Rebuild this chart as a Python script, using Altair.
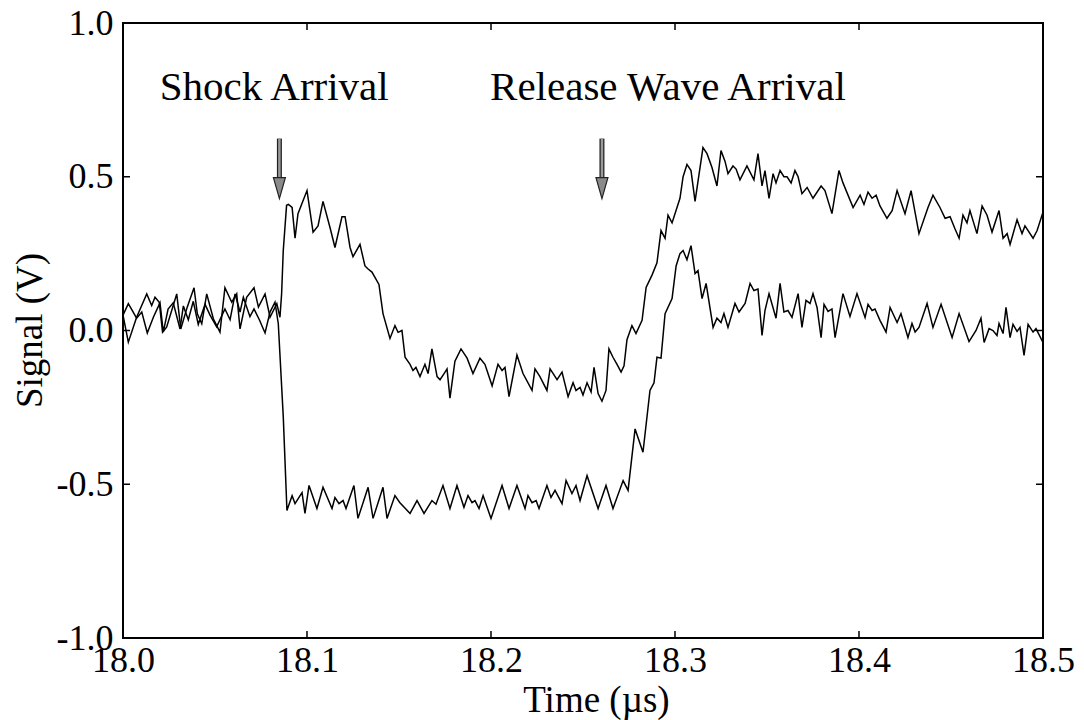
import altair as alt
import pandas as pd

# ---- trace 1 (rises at shock arrival) ----
trace1_t = [18.0000, 18.0029, 18.0074, 18.0129, 18.0156, 18.0174, 18.0197, 18.0215, 18.0237, 18.0292,
            18.0314, 18.0349, 18.0386, 18.0404, 18.0428, 18.0455, 18.0491, 18.0527, 18.0554, 18.0591,
            18.0618, 18.0636, 18.0672, 18.0712, 18.0736, 18.0772, 18.0799, 18.0836, 18.0853, 18.0862,
            18.0871, 18.0889, 18.0899,
            18.0919, 18.0935, 18.0951, 18.1000, 18.1033, 18.1060, 18.1087, 18.1125, 18.1152, 18.1190,
            18.1207, 18.1234, 18.1250, 18.1288, 18.1315, 18.1332, 18.1353, 18.1391, 18.1413, 18.1451,
            18.1478, 18.1495, 18.1516, 18.1533, 18.1560, 18.1576, 18.1592, 18.1614, 18.1641, 18.1658,
            18.1679, 18.1707, 18.1723, 18.1745, 18.1761, 18.1777, 18.1804, 18.1837, 18.1870, 18.1902,
            18.1940, 18.1967, 18.2006, 18.2038, 18.2060, 18.2076, 18.2098, 18.2141, 18.2174, 18.2223,
            18.2239, 18.2266, 18.2304, 18.2321, 18.2359, 18.2386, 18.2419, 18.2446, 18.2462, 18.2484,
            18.2500, 18.2522, 18.2544, 18.2560, 18.2582, 18.2603, 18.2625, 18.2641, 18.2663, 18.2685,
            18.2707, 18.2723, 18.2739, 18.2766, 18.2788, 18.2821, 18.2843, 18.2875, 18.2902, 18.2924,
            18.2946, 18.2962, 18.2984, 18.3027, 18.3044, 18.3065, 18.3087, 18.3109, 18.3152, 18.3174,
            18.3201, 18.3228, 18.3250, 18.3272, 18.3288, 18.3315, 18.3332, 18.3353, 18.3391, 18.3429,
            18.3451, 18.3473, 18.3489, 18.3511, 18.3533, 18.3549, 18.3571, 18.3592, 18.3609, 18.3631,
            18.3652, 18.3669, 18.3690, 18.3718, 18.3750, 18.3794, 18.3815, 18.3853, 18.3891, 18.3913,
            18.3968, 18.4006, 18.4027, 18.4049, 18.4071, 18.4093, 18.4114, 18.4152, 18.4180, 18.4207,
            18.4250, 18.4283, 18.4326, 18.4375, 18.4402, 18.4440, 18.4468, 18.4495, 18.4522, 18.4544,
            18.4565, 18.4587, 18.4603, 18.4641, 18.4669, 18.4696, 18.4723, 18.4761, 18.4783, 18.4805,
            18.4821, 18.4859, 18.4886, 18.4902, 18.4946, 18.4968, 18.5000]
trace1_v = [0.05, -0.038, 0.043, 0.119, 0.081, 0.108, 0.092, -0.005, 0.011, 0.119,
            0.005, 0.076, 0.139, 0.054, 0.022, 0.119, 0.038, -0.005, 0.139, 0.092,
            0.119, 0.005, 0.108, 0.139, 0.076, 0.119, 0.043, 0.087, 0.043, 0.119,
            0.26, 0.407, 0.41,
            0.40, 0.30, 0.38, 0.455, 0.32, 0.34, 0.42, 0.335, 0.27, 0.37,
            0.37, 0.27, 0.24, 0.28, 0.21, 0.20, 0.19, 0.15, 0.055, -0.026,
            0.016, -0.006, 0.0, -0.087, -0.11, -0.13, -0.12, -0.15, -0.11, -0.14,
            -0.06, -0.15, -0.16, -0.14, -0.125, -0.22, -0.10, -0.06, -0.09, -0.14,
            -0.09, -0.11, -0.18, -0.11, -0.13, -0.12, -0.215, -0.08, -0.14, -0.195,
            -0.125, -0.15, -0.195, -0.125, -0.16, -0.135, -0.215, -0.17, -0.195, -0.185,
            -0.21, -0.17, -0.20, -0.12, -0.205, -0.23, -0.195, -0.06, -0.087, -0.11,
            -0.135, -0.115, -0.03, 0.016, -0.01, 0.033, 0.14, 0.18, 0.22, 0.325,
            0.30, 0.375, 0.35, 0.43, 0.50, 0.54, 0.52, 0.42, 0.595, 0.575,
            0.53, 0.47, 0.585, 0.55, 0.51, 0.535, 0.525, 0.49, 0.535, 0.49,
            0.575, 0.47, 0.52, 0.43, 0.51, 0.48, 0.52, 0.50, 0.50, 0.48,
            0.52, 0.50, 0.445, 0.465, 0.43, 0.47, 0.455, 0.38, 0.52, 0.48,
            0.40, 0.44, 0.41, 0.45, 0.43, 0.44, 0.405, 0.365, 0.39, 0.455,
            0.38, 0.455, 0.315, 0.40, 0.44, 0.40, 0.365, 0.37, 0.33, 0.30,
            0.375, 0.35, 0.39, 0.315, 0.405, 0.375, 0.32, 0.39, 0.30, 0.315,
            0.28, 0.36, 0.315, 0.34, 0.30, 0.325, 0.385]

# ---- trace 2 (drops at shock arrival) ----
trace2_t = [18.0000, 18.0029, 18.0074, 18.0102, 18.0132, 18.0165, 18.0201, 18.0219, 18.0245, 18.0273,
            18.0310, 18.0328, 18.0355, 18.0382, 18.0409, 18.0446, 18.0473, 18.0509, 18.0554, 18.0582,
            18.0609, 18.0636, 18.0654, 18.0690, 18.0712, 18.0741, 18.0772, 18.0799, 18.0826, 18.0844,
            18.0871,
            18.0891, 18.0919, 18.0935, 18.0973, 18.0989, 18.1011, 18.1054, 18.1087, 18.1136, 18.1152,
            18.1174, 18.1196, 18.1212, 18.1255, 18.1277, 18.1332, 18.1359, 18.1413, 18.1435, 18.1478,
            18.1505, 18.1560, 18.1598, 18.1636, 18.1679, 18.1701, 18.1739, 18.1777, 18.1815, 18.1853,
            18.1875, 18.1897, 18.1913, 18.1935, 18.1957, 18.2000, 18.2060, 18.2098, 18.2141, 18.2185,
            18.2201, 18.2223, 18.2245, 18.2261, 18.2304, 18.2326, 18.2348, 18.2386, 18.2408, 18.2440,
            18.2462, 18.2484, 18.2522, 18.2582, 18.2625, 18.2663, 18.2718, 18.2745, 18.2783, 18.2826,
            18.2864, 18.2886, 18.2902, 18.2924, 18.2946, 18.2984, 18.3006, 18.3027, 18.3044, 18.3065,
            18.3087, 18.3109, 18.3125, 18.3147, 18.3169, 18.3207, 18.3228, 18.3250, 18.3266, 18.3288,
            18.3326, 18.3348, 18.3381, 18.3408, 18.3429, 18.3451, 18.3473, 18.3489, 18.3511, 18.3549,
            18.3571, 18.3592, 18.3614, 18.3636, 18.3669, 18.3690, 18.3712, 18.3734, 18.3750, 18.3772,
            18.3794, 18.3810, 18.3832, 18.3853, 18.3870, 18.3913, 18.3951, 18.3989, 18.4033, 18.4049,
            18.4071, 18.4087, 18.4114, 18.4147, 18.4169, 18.4207, 18.4228, 18.4266, 18.4288, 18.4305,
            18.4326, 18.4370, 18.4402, 18.4446, 18.4506, 18.4544, 18.4598, 18.4636, 18.4663, 18.4680,
            18.4707, 18.4728, 18.4750, 18.4761, 18.4783, 18.4799, 18.4821, 18.4837, 18.4859, 18.4875,
            18.4897, 18.4919, 18.4946, 18.4962, 18.5000]
trace2_v = [0.05, 0.087, 0.04, 0.06, -0.008, 0.043, 0.09, -0.005, 0.07, 0.09,
            0.005, 0.08, 0.035, 0.095, 0.02, 0.085, 0.05, 0.012, 0.07, 0.035,
            0.119, 0.06, 0.108, 0.045, 0.07, 0.035, -0.008, 0.06, 0.092, 0.022,
            -0.28,
            -0.585, -0.537, -0.563, -0.527, -0.595, -0.504, -0.579, -0.51, -0.579, -0.543,
            -0.563, -0.553, -0.579, -0.504, -0.611, -0.51, -0.611, -0.51, -0.611, -0.537,
            -0.56, -0.595, -0.553, -0.595, -0.553, -0.565, -0.504, -0.579, -0.504, -0.575,
            -0.537, -0.56, -0.553, -0.579, -0.537, -0.611, -0.504, -0.579, -0.504, -0.579,
            -0.537, -0.56, -0.553, -0.579, -0.504, -0.543, -0.52, -0.563, -0.488, -0.53,
            -0.504, -0.553, -0.472, -0.579, -0.504, -0.579, -0.488, -0.52, -0.32, -0.396,
            -0.195, -0.17, -0.087, -0.09, 0.055, 0.104, 0.21, 0.25, 0.26, 0.23,
            0.276, 0.185, 0.195, 0.104, 0.153, 0.01, 0.04, 0.026, 0.055, 0.01,
            0.088, 0.06, 0.088, 0.153, 0.13, 0.135, -0.016, 0.065, 0.12, 0.04,
            0.153, 0.06, 0.065, 0.043, 0.12, 0.01, 0.098, 0.088, 0.12, 0.075,
            -0.023, 0.085, 0.062, 0.07, -0.023, 0.12, 0.046, 0.12, 0.042, 0.085,
            0.065, 0.07, 0.033, -0.005, 0.075, 0.026, 0.055, -0.023, 0.023, -0.005,
            0.01, 0.088, 0.01, 0.085, -0.023, 0.055, -0.036, 0.0, 0.04, -0.039,
            0.006, 0.0, -0.016, 0.023, -0.01, 0.075, -0.023, 0.02, -0.003, 0.01,
            -0.081, 0.02, -0.005, 0.006, -0.039]

assert len(trace1_t) == len(trace1_v), (len(trace1_t), len(trace1_v))
assert len(trace2_t) == len(trace2_v), (len(trace2_t), len(trace2_v))

x_labels = [18.0, 18.1, 18.2, 18.3, 18.4, 18.5]
y_labels = [-1.0, -0.5, 0.0, 0.5, 1.0]
x_ticks = [18.1, 18.2, 18.3, 18.4]
y_ticks = [-0.5, 0.0, 0.5]

ann_text = ["Shock Arrival", "Release Wave Arrival"]
ann_t = [18.020, 18.1995]
ann_v = [0.787, 0.787]

arrow_t = [18.085, 18.2603]
arrow_top = [0.624, 0.624]
arrow_neck = [0.498, 0.498]
arrow_head = [0.463, 0.463]

FONT = "Liberation Serif"
W, H = 920, 615

df = pd.DataFrame({
    "t": trace1_t + trace2_t,
    "v": trace1_v + trace2_v,
    "trace": ["1"] * len(trace1_t) + ["2"] * len(trace2_t),
})
ticks_x_df = pd.DataFrame({"t": x_ticks})
ticks_y_df = pd.DataFrame({"v": y_ticks})
ann_df = pd.DataFrame({"label": ann_text, "t": ann_t, "v": ann_v})
arrow_df = pd.DataFrame({"t": arrow_t, "v": arrow_top, "neck": arrow_neck, "head": arrow_head})

xs = alt.Scale(domain=[18.0, 18.5], nice=False, zero=False)
ys = alt.Scale(domain=[-1.0, 1.0], nice=False, zero=False)
label_expr = "datum.value < 0 ? '-' + format(-datum.value, '.1f') : format(datum.value, '.1f')"

x_axis = alt.Axis(
    title="Time (µs)", values=x_labels, labelExpr=label_expr, grid=False, domain=False,
    ticks=False, labelFont=FONT, labelFontSize=36, labelColor="black",
    labelPadding=5, labelFlush=False, labelOverlap=False,
    titleFont=FONT, titleFontSize=37, titleFontWeight="normal", titleColor="black",
    titleX=473, titleY=62, titleBaseline="middle", titleAlign="center",
)
y_axis = alt.Axis(
    title="Signal (V)", values=y_labels, labelExpr=label_expr, grid=False, domain=False,
    ticks=False, labelFont=FONT, labelFontSize=36, labelColor="black",
    labelPadding=10, labelFlush=False, labelOverlap=False,
    titleFont=FONT, titleFontSize=37, titleFontWeight="normal", titleColor="black",
    titleX=-93, titleY=307, titleBaseline="middle", titleAlign="center", titleAngle=-90,
)

X = alt.X("t:Q", scale=xs, axis=x_axis)
Y = alt.Y("v:Q", scale=ys, axis=y_axis)

lines = alt.Chart(df).mark_line(color="black", strokeWidth=1.5).encode(
    x=X, y=Y, detail="trace:N",
)

tick_kw = dict(color="black", strokeWidth=1.5)
ticks_bottom = alt.Chart(ticks_x_df).mark_rule(**tick_kw).encode(
    x=X, y=alt.value(H), y2=alt.value(H - 7))
ticks_top = alt.Chart(ticks_x_df).mark_rule(**tick_kw).encode(
    x=X, y=alt.value(0), y2=alt.value(7))
ticks_left = alt.Chart(ticks_y_df).mark_rule(**tick_kw).encode(
    y=Y, x=alt.value(0), x2=alt.value(7))
ticks_right = alt.Chart(ticks_y_df).mark_rule(**tick_kw).encode(
    y=Y, x=alt.value(W), x2=alt.value(W - 7))

shaft_outer = alt.Chart(arrow_df).mark_rule(color="#222222", strokeWidth=5).encode(
    x=X, y=Y, y2="neck:Q")
shaft_inner = alt.Chart(arrow_df).mark_rule(color="#9a9a9a", strokeWidth=2.5).encode(
    x=X, y=Y, y2="neck:Q")
head = alt.Chart(arrow_df).mark_point(
    shape="M -0.57 -1 L 0.57 -1 L 0 1 Z", size=441, filled=True,
    fill="#8a8a8a", stroke="#222222", strokeWidth=1.2, opacity=1,
).encode(
    x=X, y=alt.Y("head:Q", scale=ys, axis=y_axis))

ann = alt.Chart(ann_df).mark_text(
    font=FONT, fontSize=41, color="black", align="left", baseline="middle"
).encode(
    x=X, y=Y, text="label:N")

chart = alt.layer(
    lines, ticks_bottom, ticks_top, ticks_left, ticks_right,
    shaft_outer, shaft_inner, head, ann,
).properties(
    width=W, height=H,
    autosize=alt.AutoSizeParams(type="none"),
    padding={"left": 123, "top": 23, "right": 41, "bottom": 82},
    background="white",
).configure_view(stroke="black", strokeWidth=2)

chart.save("out.html", embed_options={"renderer": "svg", "actions": False})
